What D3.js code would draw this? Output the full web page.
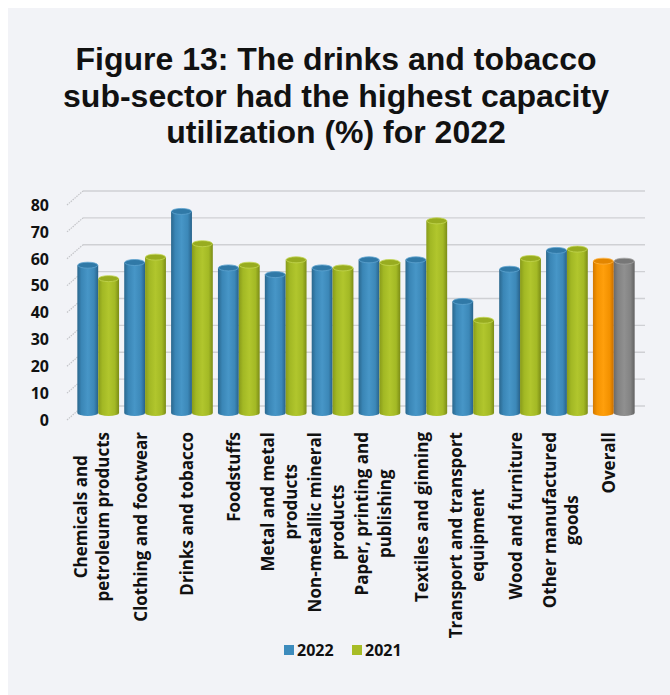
<!DOCTYPE html>
<html>
<head>
<meta charset="utf-8">
<script src="https://cdn.jsdelivr.net/npm/d3@7"></script>
<style>
  html, body { margin: 0; padding: 0; background: #ffffff; }
  svg { display: block; }
  text { font-family: "Open Sans", "DejaVu Sans", sans-serif; font-weight: 700; fill: #111; }
  text.title { font-family: "Liberation Sans", Arial, sans-serif; }
</style>
</head>
<body>
<div id="chart"></div>
<script>
// Capacity utilization (%) by manufacturing sub-sector
const categories = [
  "Chemicals and\npetroleum products",
  "Clothing and footwear",
  "Drinks and tobacco",
  "Foodstuffs",
  "Metal and metal\nproducts",
  "Non-metallic mineral\nproducts",
  "Paper, printing and\npublishing",
  "Textiles and ginning",
  "Transport and transport\nequipment",
  "Wood and furniture",
  "Other manufactured\ngoods",
  "Overall"
];
const seriesNames = ["2022", "2021"];
const values2022 = [55, 56, 75, 54, 51.5, 54, 57, 57, 41.5, 53.5, 60.5, 56.5];
const values2021 = [50, 58, 63, 55, 57, 54, 56, 71.5, 34.5, 57.5, 61, 56.5];
const yTicks = [0, 10, 20, 30, 40, 50, 60, 70, 80];
const titleLines = [
  "Figure 13: The drinks and tobacco",
  "sub-sector had the highest capacity",
  "utilization (%) for 2022"
];

const W = 670, H = 695;
const svg = d3.select("#chart").append("svg").attr("width", W).attr("height", H);

// panel background
svg.append("rect").attr("x", 8).attr("y", 8).attr("width", W - 8).attr("height", H - 8)
  .attr("fill", "#f2f3f7");

// title
svg.append("g").selectAll("text").data(titleLines).join("text")
  .attr("class", "title")
  .attr("x", 336).attr("y", (d, i) => 70 + i * 36.5)
  .attr("text-anchor", "middle").attr("font-size", 32).text(d => d);

// geometry of the pseudo-3D plot
const front = { left: 67, width: 562 };
const depth = { dx: 16, dy: 14 };          // front -> back wall offset
const y = d3.scaleLinear().domain([0, 80]).range([420, 205]);

const x0 = d3.scaleBand().domain(categories)
  .range([front.left + depth.dx / 2, front.left + depth.dx / 2 + front.width])
  .paddingInner(0.11).paddingOuter(0.05);
const x1 = d3.scaleBand().domain(seriesNames).range([0, x0.bandwidth()]);

// gridlines: diagonal side wall + back wall
const grid = svg.append("g").attr("stroke", "#cfd0d4").attr("fill", "none");
grid.selectAll("line.back").data(yTicks).join("line").attr("class", "back")
  .attr("x1", front.left + depth.dx).attr("x2", front.left + depth.dx + front.width)
  .attr("y1", d => y(d) - depth.dy).attr("y2", d => y(d) - depth.dy)
  .attr("stroke-width", 1.4);
grid.selectAll("line.side").data(yTicks).join("line").attr("class", "side")
  .attr("x1", front.left).attr("x2", front.left + depth.dx)
  .attr("y1", d => y(d)).attr("y2", d => y(d) - depth.dy)
  .attr("stroke", "#c4c5c9").attr("stroke-width", 1.2).attr("stroke-dasharray", "1.5,1");

// y-axis labels
svg.append("g").selectAll("text").data(yTicks).join("text")
  .attr("x", 49).attr("y", d => y(d)).attr("dy", "0.36em")
  .attr("text-anchor", "end").attr("font-size", 16).text(d => d);

// cylinder shading
const palettes = {
  blue:   { stops: ["#2a678d", "#3a86b6", "#4796c7", "#3c88b8", "#28628a"], top: "#3079a7", rim: "#5ea3cf" },
  green:  { stops: ["#889b1b", "#a2b824", "#b1c62d", "#a3b925", "#7b8c16"], top: "#98ac20", rim: "#c3d552" },
  orange: { stops: ["#d27800", "#f59300", "#ff9f0c", "#f39100", "#c66d00"], top: "#e38600", rim: "#ffb340" },
  gray:   { stops: ["#6a6a6a", "#828282", "#909090", "#838383", "#626262"], top: "#777777", rim: "#a2a2a2" }
};
const defs = svg.append("defs");
Object.entries(palettes).forEach(([name, p]) => {
  const g = defs.append("linearGradient").attr("id", "cyl-" + name)
    .attr("x1", 0).attr("x2", 1).attr("y1", 0).attr("y2", 0);
  [0, 0.2, 0.5, 0.8, 1].forEach((o, i) =>
    g.append("stop").attr("offset", o).attr("stop-color", p.stops[i]));
});

const bars = [];
categories.forEach((c, i) => {
  const overall = c === "Overall";
  bars.push({ cat: c, series: "2022", value: values2022[i], pal: overall ? "orange" : "blue" });
  bars.push({ cat: c, series: "2021", value: values2021[i], pal: overall ? "gray" : "green" });
});

const ry = 3;
const barG = svg.append("g");
bars.forEach(b => {
  const xl = x0(b.cat) + x1(b.series);
  const w = x1.bandwidth();
  const xr = xl + w;
  const yb = y(0) - depth.dy / 2;
  const yt = y(b.value) - depth.dy / 2;
  const p = palettes[b.pal];
  const g = barG.append("g");
  g.append("path")
    .attr("d", `M${xl},${yt} L${xl},${yb} A${w / 2},${ry} 0 0 0 ${xr},${yb} L${xr},${yt} Z`)
    .attr("fill", `url(#cyl-${b.pal})`);
  g.append("ellipse")
    .attr("cx", xl + w / 2).attr("cy", yt).attr("rx", w / 2 - 0.4).attr("ry", ry)
    .attr("fill", p.top).attr("stroke", p.rim).attr("stroke-width", 0.8);
});

// category labels, rotated, each block centred line by line and hung from the axis
const labelTop = 432;
const lineGap = 22.5;
const labG = svg.append("g");
categories.forEach(c => {
  const lines = c.split("\n");
  const cx = x0(c) + x0.bandwidth() / 2;
  const g = labG.append("g");
  const texts = lines.map(l => g.append("text").attr("font-size", 17).text(l));
  const lens = texts.map(t => t.node().getComputedTextLength());
  const blockW = d3.max(lens);
  const n = lines.length;
  texts.forEach((t, i) => {
    t.attr("text-anchor", "middle").attr("x", -blockW / 2)
      .attr("y", (i - (n - 1) / 2) * lineGap + (n === 1 ? 1.5 : 0));
  });
  g.attr("transform", `translate(${cx},${labelTop}) rotate(-90)`);
});

// legend
const legend = svg.append("g").attr("transform", "translate(284,650)");
const legendItems = [
  { name: "2022", color: "#3d8cbd", x: 0 },
  { name: "2021", color: "#a7bc26", x: 68 }
];
legendItems.forEach(it => {
  legend.append("rect").attr("x", it.x).attr("y", -5).attr("width", 10).attr("height", 10)
    .attr("fill", it.color);
  legend.append("text").attr("x", it.x + 13).attr("y", 0).attr("dy", "0.36em")
    .attr("font-size", 16).text(it.name);
});
</script>
</body>
</html>
